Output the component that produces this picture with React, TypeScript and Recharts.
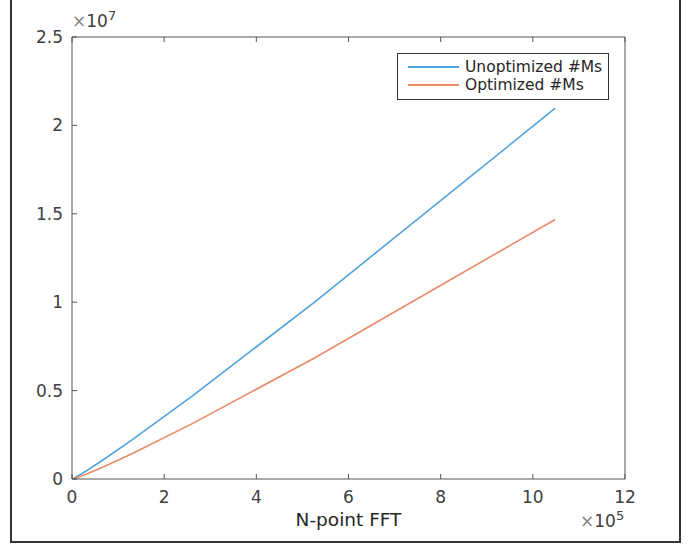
import React from 'react'
import { LineChart, Line, XAxis, YAxis } from 'recharts'

// FFT length (points 2^10 .. 2^20)
const nPoints = [1024, 2048, 4096, 8192, 16384, 32768, 65536, 131072, 262144, 524288, 1048576]
const unoptimized = [10240, 22528, 49152, 106496, 229376, 491520, 1048576, 2228224, 4718592, 9961472, 20971520]
const optimized = [4096, 10240, 24576, 57344, 131072, 294912, 655360, 1441792, 3145728, 6815744, 14680064]

const xTicks = [0, 200000, 400000, 600000, 800000, 1000000, 1200000]
const yTicks = [0, 5000000, 10000000, 15000000, 20000000, 25000000]

const data = nPoints.map((n, i) => ({ n, unopt: unoptimized[i], opt: optimized[i] }))

const FONT = '"DejaVu Sans", sans-serif'
const AXIS = '#555'
const TEXT = '#404040'
const BLUE = '#4fa3dc'
const ORANGE = '#e98a68'

const fmtX = (v: number) => String(+(v / 1e5).toFixed(1))
const fmtY = (v: number) => String(+(v / 1e7).toFixed(1))

function BottomTick({ x, y, payload }: any) {
  return (
    <g>
      <line x1={x} x2={x} y1={y} y2={y - 5} stroke={AXIS} />
      <text x={x} y={y + 24} textAnchor="middle" fontSize={17} fill={TEXT} fontFamily={FONT}>
        {fmtX(payload.value)}
      </text>
    </g>
  )
}

function TopTick({ x, y }: any) {
  return <line x1={x} x2={x} y1={y} y2={y + 5} stroke={AXIS} />
}

function LeftTick({ x, y, payload }: any) {
  return (
    <g>
      <line x1={x} x2={x + 5} y1={y} y2={y} stroke={AXIS} />
      <text x={x - 9} y={y + 6} textAnchor="end" fontSize={17} fill={TEXT} fontFamily={FONT}>
        {fmtY(payload.value)}
      </text>
    </g>
  )
}

function RightTick({ x, y }: any) {
  return <line x1={x} x2={x - 5} y1={y} y2={y} stroke={AXIS} />
}

function LegendBox() {
  const items = [
    { label: 'Unoptimized #Ms', color: BLUE },
    { label: 'Optimized #Ms', color: ORANGE },
  ]
  return (
    <div
      style={{
        position: 'absolute',
        left: 397,
        top: 53,
        boxSizing: 'border-box',
        border: '1px solid #333',
        background: '#fff',
        padding: '4px 0 4px 10px',
        fontFamily: FONT,
        fontSize: 15.5,
        color: '#262626',
        width: 212,
        height: 47,
      }}
    >
      {items.map((it) => (
        <div key={it.label} style={{ display: 'flex', alignItems: 'center', height: 18, whiteSpace: 'nowrap' }}>
          <span style={{ display: 'inline-block', width: 51, height: 2, background: it.color, marginRight: 6 }} />
          {it.label}
        </div>
      ))}
    </div>
  )
}

export default function App() {
  return (
    <div style={{ position: 'absolute', left: 0, top: 0, width: 691, height: 546, background: '#fff' }}>
      <div
        style={{
          position: 'absolute',
          left: 10,
          top: -2,
          width: 667,
          height: 543,
          borderLeft: '2px solid #333',
          borderRight: '2px solid #333',
          borderBottom: '2px solid #333',
        }}
      />
      <LineChart width={691} height={546} data={data} margin={{ top: 0, right: 0, bottom: 0, left: 0 }}>
        <XAxis
          xAxisId="b"
          dataKey="n"
          type="number"
          domain={[0, 1200000]}
          ticks={xTicks}
          tickSize={0}
          tickMargin={0}
          tick={<BottomTick />}
          stroke={AXIS}
          height={67}
          interval={0}
        />
        <XAxis
          xAxisId="t"
          orientation="top"
          dataKey="n"
          type="number"
          domain={[0, 1200000]}
          ticks={xTicks}
          tickSize={0}
          tickMargin={0}
          tick={<TopTick />}
          stroke={AXIS}
          height={37}
          interval={0}
        />
        <YAxis
          yAxisId="l"
          type="number"
          domain={[0, 25000000]}
          ticks={yTicks}
          tickSize={0}
          tickMargin={0}
          tick={<LeftTick />}
          stroke={AXIS}
          width={72}
          interval={0}
        />
        <YAxis
          yAxisId="r"
          orientation="right"
          type="number"
          domain={[0, 25000000]}
          ticks={yTicks}
          tickSize={0}
          tickMargin={0}
          tick={<RightTick />}
          stroke={AXIS}
          width={66}
          interval={0}
        />
        <Line
          xAxisId="b"
          yAxisId="l"
          dataKey="unopt"
          name="Unoptimized #Ms"
          stroke={BLUE}
          strokeWidth={1.6}
          dot={false}
          isAnimationActive={false}
        />
        <Line
          xAxisId="b"
          yAxisId="l"
          dataKey="opt"
          name="Optimized #Ms"
          stroke={ORANGE}
          strokeWidth={1.6}
          dot={false}
          isAnimationActive={false}
        />
      </LineChart>
      <LegendBox />
      <div style={{ position: 'absolute', left: 72, top: 8, fontFamily: FONT, fontSize: 17, color: TEXT }}>
        <span style={{ color: '#888' }}>×</span>10<sup style={{ fontSize: 13 }}>7</sup>
      </div>
      <div style={{ position: 'absolute', left: 580, top: 508, fontFamily: FONT, fontSize: 17, color: TEXT }}>
        <span style={{ color: '#888' }}>×</span>10<sup style={{ fontSize: 13 }}>5</sup>
      </div>
      <div
        style={{
          position: 'absolute',
          left: 0,
          width: 697,
          top: 509,
          textAlign: 'center',
          fontFamily: FONT,
          fontSize: 18.5,
          color: '#262626',
        }}
      >
        N-point FFT
      </div>
    </div>
  )
}
